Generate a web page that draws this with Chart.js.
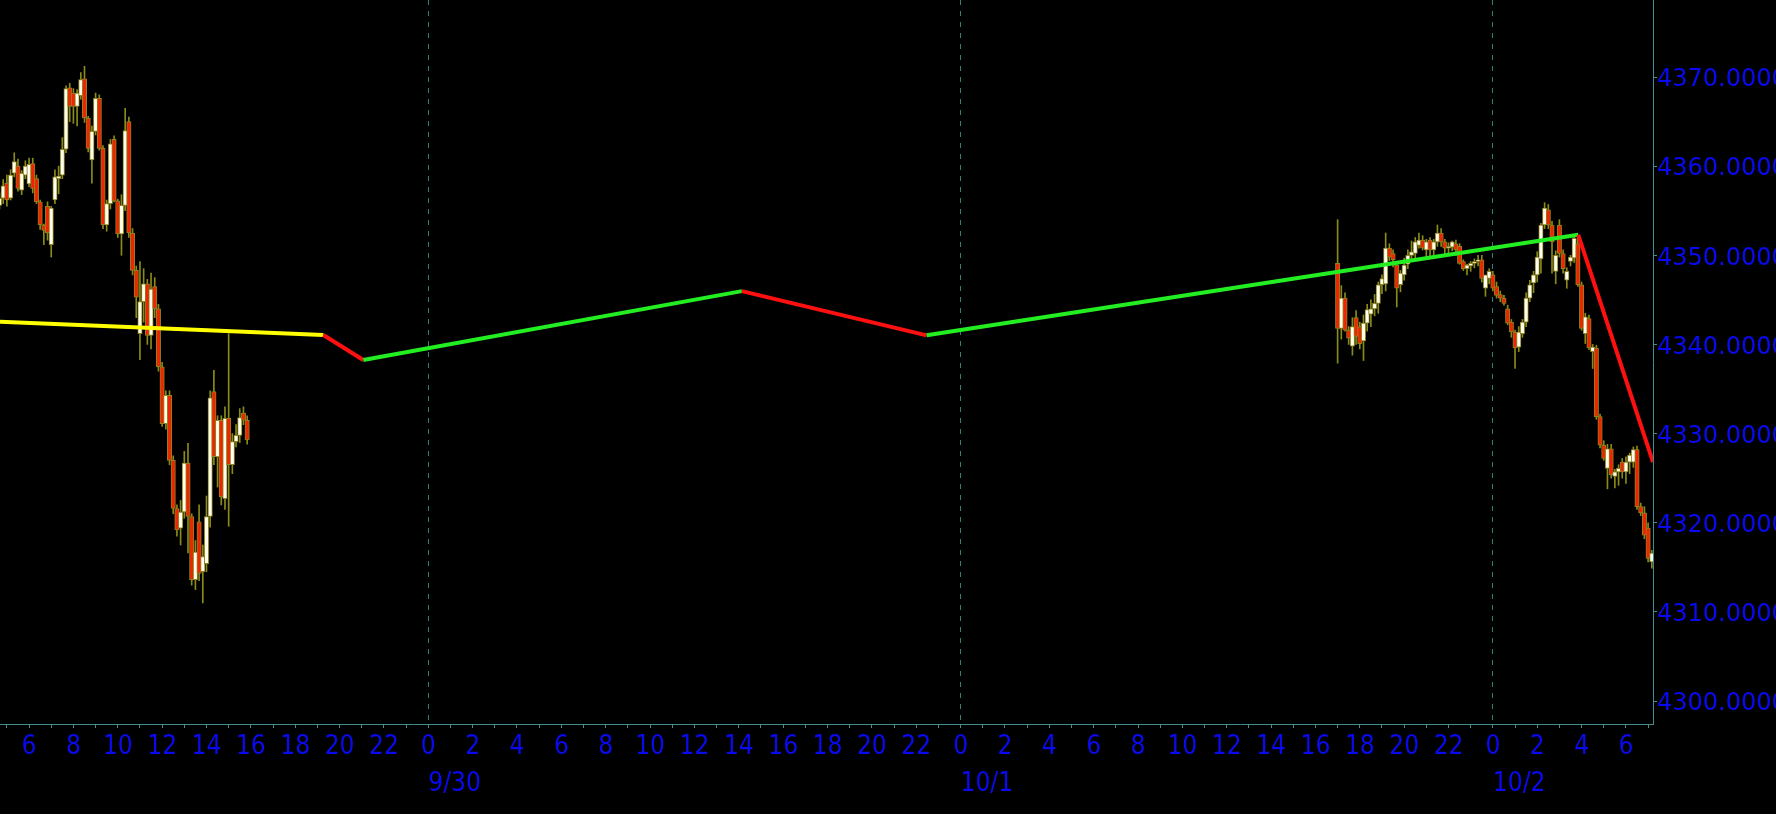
<!DOCTYPE html>
<html>
<head>
<meta charset="utf-8">
<script src="https://cdn.jsdelivr.net/npm/chart.js@4.4.1/dist/chart.umd.min.js"></script>
<style>
  html, body { margin: 0; padding: 0; background: #000; }
  canvas { display: block; }
</style>
</head>
<body>
<canvas id="chart" width="1776" height="814"></canvas>
<script>
// time axis: hours counted from 9/30 00:00
const xMin = -19.31, xMax = 55.22;
const yMin = 4297.42, yMax = 4378.64;
const yTicks = [4300, 4310, 4320, 4330, 4340, 4350, 4360, 4370];
const dayStarts = [0, 24, 48];
const dayLabels = ['9/30', '10/1', '10/2'];
const barMinutes = 10;

// 9/29 session, first bar 04:40
const friStart = -24 + 4 + 40 / 60;
const friOpen  = [4355.6,4356.4,4358.1,4356.4,4359.2,4360.0,4357.3,4359.0,4358.0,4360.3,
                  4358.6,4356.0,4353.4,4355.5,4351.2,4356.2,4358.6,4359.0,4361.9,4368.8,
                  4368.2,4366.7,4367.9,4369.8,4365.4,4360.7,4363.9,4367.6,4362.0,4353.4,
                  4355.8,4363.0,4356.1,4352.4,4355.6,4365.0,4352.5,4348.3,4341.2,4344.8,
                  4346.8,4341.0,4346.5,4344.0,4337.5,4331.1,4334.3,4327.0,4321.6,4319.4,
                  4321.2,4326.7,4320.7,4313.6,4320.1,4314.5,4315.4,4320.7,4334.7,4327.4,
                  4331.5,4322.7,4331.7,4326.5,4329.1,4329.8,4332.3,4331.5];
const friHigh  = [4357.0,4358.5,4359.0,4359.6,4361.5,4360.8,4359.5,4360.6,4360.9,4360.9,
                  4359.0,4356.2,4353.5,4356.0,4355.5,4359.6,4360.0,4363.2,4369.0,4369.3,
                  4368.7,4368.6,4370.5,4371.2,4365.6,4364.5,4368.2,4368.0,4362.3,4356.2,
                  4363.0,4363.4,4356.3,4356.8,4366.5,4365.5,4353.0,4348.8,4349.3,4348.5,
                  4347.3,4348.0,4347.5,4344.5,4338.0,4334.8,4334.8,4327.5,4322.0,4322.5,
                  4328.0,4328.9,4321.0,4318.0,4322.0,4317.5,4323.0,4334.8,4337.1,4332.0,
                  4332.0,4333.0,4341.2,4330.0,4331.0,4332.8,4333.0,4332.0];
const friLow   = [4355.2,4355.8,4355.5,4356.2,4358.8,4357.2,4356.8,4358.6,4357.7,4357.0,
                  4355.8,4352.9,4351.2,4351.7,4349.8,4355.8,4356.9,4358.6,4361.5,4365.0,
                  4364.8,4364.5,4367.5,4364.9,4361.6,4358.1,4363.5,4361.8,4353.0,4352.7,
                  4355.2,4356.0,4352.0,4350.0,4355.0,4352.0,4347.8,4343.0,4338.3,4342.5,
                  4340.0,4339.5,4343.0,4337.0,4330.8,4330.5,4326.5,4321.0,4318.5,4317.5,
                  4320.5,4316.6,4313.0,4312.5,4313.5,4311.0,4314.5,4319.5,4326.5,4324.0,
                  4322.0,4321.5,4319.6,4325.5,4328.5,4329.0,4331.0,4328.8];
const friClose = [4356.4,4357.8,4356.2,4359.0,4360.5,4357.5,4359.2,4360.0,4360.2,4357.5,
                  4356.0,4353.4,4352.8,4352.5,4355.3,4358.8,4358.9,4361.9,4368.7,4366.7,
                  4366.7,4368.2,4369.7,4365.4,4362.0,4363.9,4367.6,4362.0,4353.4,4355.8,
                  4362.5,4356.1,4352.4,4355.6,4364.0,4352.5,4348.3,4345.3,4344.8,4346.8,
                  4341.0,4346.2,4344.0,4337.5,4331.1,4334.3,4327.0,4321.6,4319.2,4321.2,
                  4326.7,4320.7,4313.6,4316.7,4314.3,4316.2,4320.7,4334.0,4327.4,4331.5,
                  4322.9,4331.7,4326.5,4329.1,4329.8,4331.8,4331.5,4329.3];

// 10/1 - 10/2 session, first bar 10/1 17:00
const sunStart = 24 + 17;
const sunOpen  = [4349.1,4341.8,4345.2,4341.6,4339.8,4343.0,4342.0,4340.4,4342.4,4343.4,
                  4344.0,4344.6,4346.7,4346.8,4350.8,4350.2,4348.9,4346.7,4347.8,4349.0,
                  4350.0,4350.2,4351.1,4351.7,4350.6,4351.7,4350.6,4351.5,4352.5,4351.5,
                  4350.8,4350.9,4351.3,4351.0,4349.3,4348.5,4348.8,4349.1,4349.3,4349.5,
                  4346.3,4347.4,4347.8,4346.5,4345.6,4345.2,4344.0,4342.5,4341.4,4339.7,
                  4341.2,4342.5,4345.2,4346.9,4347.8,4349.6,4353.4,4355.1,4353.4,4348.2,
                  4353.4,4350.2,4347.2,4349.3,4349.7,4351.3,4346.7,4341.2,4342.9,4339.2,
                  4339.6,4331.9,4328.7,4326.1,4328.3,4325.2,4325.7,4326.8,4325.7,4326.8,
                  4326.8,4328.2,4321.8,4321.1,4319.4,4315.6];
const sunHigh  = [4354.0,4346.6,4345.8,4342.0,4343.0,4343.8,4342.5,4343.3,4344.5,4345.0,
                  4345.6,4347.0,4347.8,4352.5,4351.3,4350.6,4349.2,4348.3,4349.7,4350.6,
                  4351.6,4352.0,4352.5,4352.2,4351.8,4352.0,4351.8,4353.4,4353.0,4351.8,
                  4351.4,4351.6,4351.7,4351.3,4349.5,4349.0,4349.3,4349.6,4350.0,4350.0,
                  4347.5,4348.5,4348.2,4347.0,4346.0,4345.5,4344.4,4342.8,4341.6,4342.0,
                  4342.8,4345.8,4347.2,4348.2,4350.4,4353.6,4355.9,4355.7,4353.8,4350.5,
                  4354.0,4350.6,4348.6,4350.0,4352.3,4352.0,4347.0,4343.5,4343.3,4340.0,
                  4339.9,4332.2,4329.2,4328.8,4328.8,4326.0,4326.5,4327.2,4327.4,4327.8,
                  4328.5,4328.6,4322.2,4321.8,4320.0,4316.9];
const sunLow   = [4337.9,4340.6,4341.5,4340.0,4338.8,4340.0,4339.5,4338.2,4341.5,4342.0,
                  4343.2,4343.5,4345.7,4346.0,4349.4,4348.7,4344.2,4345.9,4347.2,4348.5,
                  4349.6,4349.5,4350.8,4350.6,4349.8,4349.8,4350.0,4351.0,4351.0,4350.2,
                  4350.2,4350.5,4350.0,4349.0,4348.3,4347.8,4348.2,4348.6,4348.8,4347.0,
                  4345.4,4346.8,4346.0,4345.2,4344.8,4344.4,4342.2,4340.8,4337.3,4339.2,
                  4340.8,4342.0,4344.8,4345.8,4347.0,4348.0,4353.0,4353.0,4348.0,4346.8,
                  4349.8,4348.0,4346.3,4348.8,4349.2,4346.5,4341.6,4340.1,4339.4,4337.3,
                  4331.6,4328.4,4327.0,4323.8,4325.0,4323.9,4324.2,4325.0,4324.4,4325.5,
                  4326.2,4321.5,4320.8,4318.2,4315.6,4314.9];
const sunClose = [4341.8,4345.2,4341.6,4340.7,4342.0,4340.9,4340.1,4342.4,4343.9,4344.0,
                  4344.6,4346.7,4347.4,4350.8,4349.8,4349.5,4346.3,4348.0,4348.9,4350.0,
                  4350.4,4351.5,4351.7,4350.8,4351.5,4350.6,4351.5,4352.5,4351.5,4350.8,
                  4351.0,4351.5,4350.6,4349.1,4348.5,4348.9,4349.1,4349.3,4349.5,4347.4,
                  4347.8,4348.2,4346.3,4345.5,4345.2,4344.6,4342.4,4341.4,4339.6,4341.4,
                  4342.5,4345.2,4346.7,4347.8,4349.8,4353.4,4355.3,4353.4,4351.5,4350.0,
                  4350.2,4348.5,4348.2,4349.8,4351.9,4346.7,4341.8,4343.1,4339.6,4339.7,
                  4331.9,4328.7,4327.2,4328.3,4325.4,4325.7,4326.1,4325.7,4326.8,4327.6,
                  4328.2,4321.8,4321.1,4318.6,4316.0,4316.6];

// zigzag overlay: turning points (hours, price) and segment colours
const zigX = [-19.31, -4.73, -2.93, 14.14, 22.47, 51.85, 55.22];
const zigY = [4342.55, 4341.06, 4338.25, 4345.98, 4341.02, 4352.3, 4326.8];
const zigColors = ['#ffff00', '#ff1010', '#22ee22', '#ff1010', '#22ee22', '#ff1010'];

const axisColor = '#3f8f8f';
const labelColor = '#0a0af0';
const upColor = '#fffff0';
const downColor = '#f02400';
const edgeColor = '#8f8420';
const wickColor = '#8a8a18';
const labelFont = "'DejaVu Sans Condensed', 'Liberation Sans Narrow', 'DejaVu Sans'";

function buildBars(start, o, h, l, c) {
  return o.map((v, i) => ({ x: start + i * barMinutes / 60, o: v, h: h[i], l: l[i], c: c[i] }));
}
const bars = [
  ...buildBars(friStart, friOpen, friHigh, friLow, friClose),
  ...buildBars(sunStart, sunOpen, sunHigh, sunLow, sunClose)
];

const hourTicks = [];
for (let h = Math.ceil(xMin); h <= Math.floor(xMax); h++) hourTicks.push(h);

// keep the plot area flush with the canvas edges
function noSidePad(a) { a.paddingLeft = 0; a.paddingRight = 0; }

new Chart(document.getElementById('chart'), {
  type: 'bar',
  data: {
    datasets: [
      {
        type: 'line',
        data: zigX.map((x, i) => ({ x, y: zigY[i] })),
        borderColor: zigColors[0],
        segment: { borderColor: ctx => zigColors[ctx.p0DataIndex] },
        borderWidth: 4,
        pointRadius: 0,
        tension: 0,
        fill: false,
        order: 1
      },
      {
        data: bars.map(b => ({ x: b.x, y: [b.o, b.c] })),
        backgroundColor: bars.map(b => b.c >= b.o ? upColor : downColor),
        borderColor: edgeColor,
        borderWidth: 1,
        borderSkipped: false,
        barThickness: 4.4,
        minBarLength: 1,
        grouped: false,
        order: 2
      },
      {
        data: bars.map(b => ({ x: b.x, y: [b.l, b.h] })),
        backgroundColor: wickColor,
        borderWidth: 0,
        barThickness: 1,
        grouped: false,
        order: 3
      }
    ]
  },
  options: {
    responsive: false,
    devicePixelRatio: 1,
    animation: false,
    events: [],
    layout: { padding: 0 },
    plugins: { legend: { display: false }, tooltip: { enabled: false } },
    scales: {
      x: {
        type: 'linear',
        position: 'bottom',
        min: xMin,
        max: xMax,
        offset: false,
        afterBuildTicks: a => { a.ticks = hourTicks.map(v => ({ value: v })); },
        afterFit: a => { a.height = 38; noSidePad(a); },
        grid: {
          offset: false,
          color: c => (c.tick && ((c.tick.value % 24) + 24) % 24 === 0) ? '#2f7f7f' : 'rgba(0,0,0,0)',
          lineWidth: 1,
          tickColor: axisColor,
          tickLength: 4
        },
        border: { color: axisColor, width: 1, dash: [5, 6] },
        ticks: {
          autoSkip: false,
          maxRotation: 0,
          color: labelColor,
          padding: 4,
          font: { family: labelFont, size: 26 },
          callback: v => {
            const hr = ((v % 24) + 24) % 24;
            return hr % 2 === 0 ? String(hr) : '';
          }
        }
      },
      x2: {
        type: 'linear',
        position: 'bottom',
        min: xMin,
        max: xMax,
        offset: false,
        afterBuildTicks: a => { a.ticks = dayStarts.map(v => ({ value: v })); },
        afterFit: a => { a.height = 52; noSidePad(a); },
        grid: { display: false, drawTicks: false },
        border: { display: false },
        ticks: {
          align: 'start',
          maxRotation: 0,
          autoSkip: false,
          color: labelColor,
          padding: 7,
          font: { family: labelFont, size: 26 },
          callback: v => dayLabels[dayStarts.indexOf(v)]
        }
      },
      y: {
        type: 'linear',
        position: 'right',
        min: yMin,
        max: yMax,
        afterBuildTicks: a => { a.ticks = yTicks.map(v => ({ value: v })); },
        afterFit: a => { a.width = 123; a.paddingTop = 0; a.paddingBottom = 0; },
        grid: { drawOnChartArea: false, tickColor: axisColor, tickLength: 4 },
        border: { color: axisColor, width: 1 },
        ticks: {
          color: labelColor,
          padding: 0,
          labelOffset: 3,
          font: { family: "'DejaVu Sans'", size: 24 },
          callback: v => v.toFixed(4)
        }
      }
    }
  }
});
</script>
</body>
</html>
